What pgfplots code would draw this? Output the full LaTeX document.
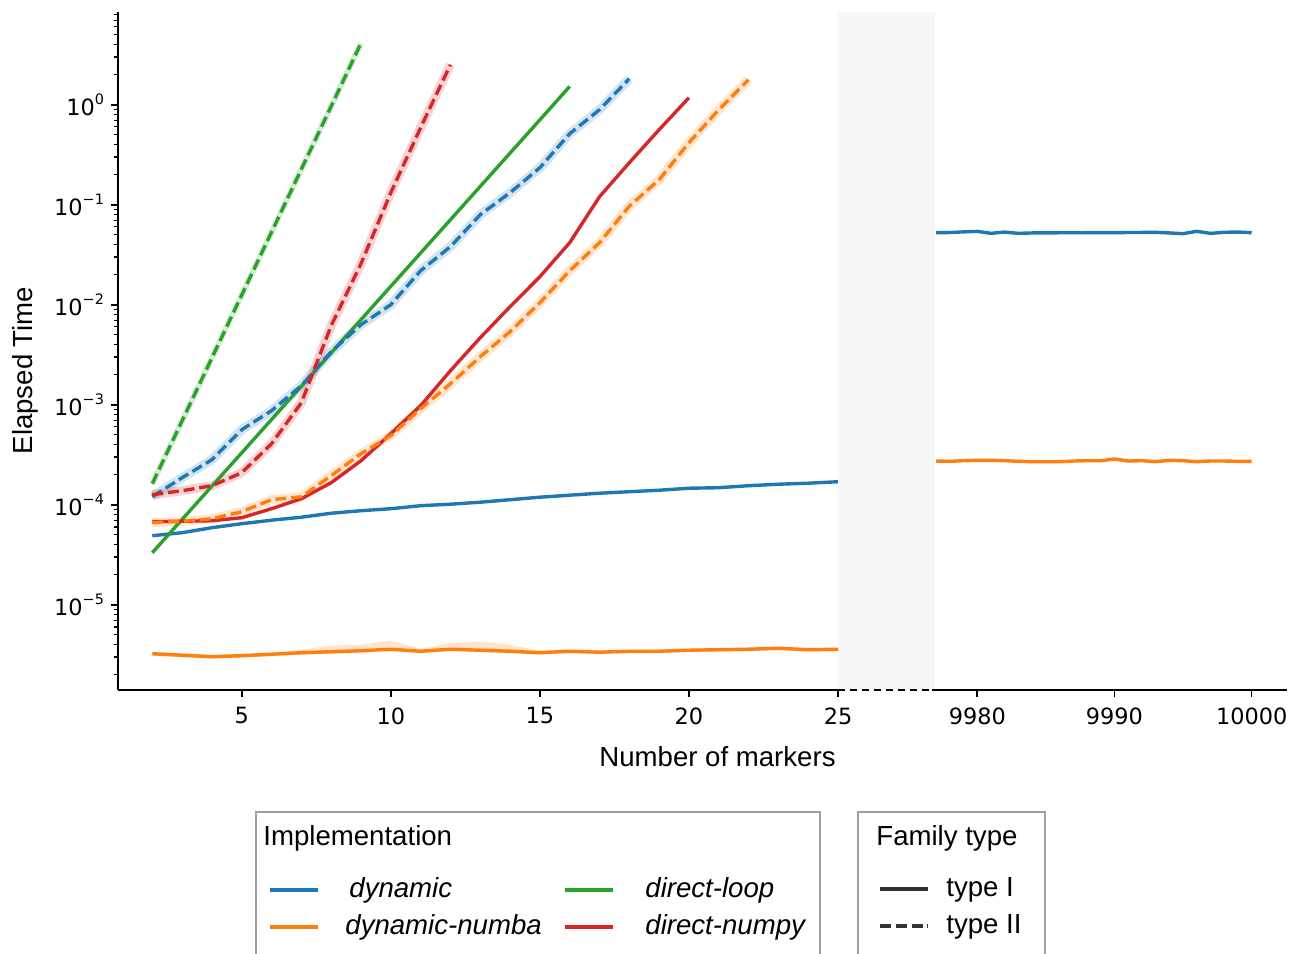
\documentclass[border=0pt]{standalone}
\usepackage{fontspec}
\setmainfont{Liberation Sans}
\newfontfamily\tickfont{DejaVu Sans}
\usepackage{pgfplots}
\pgfplotsset{compat=1.18}
\definecolor{tabblue}{HTML}{1F77B4}
\definecolor{taborange}{HTML}{FF7F0E}
\definecolor{tabgreen}{HTML}{2CA02C}
\definecolor{tabred}{HTML}{D62728}
\definecolor{bandgrey}{HTML}{F7F7F7}
\definecolor{legedge}{HTML}{A0A0A0}
\newcommand\pw[1]{10\raisebox{0.5em}{\fontsize{7.2pt}{8pt}\selectfont #1}}
\tikzset{dsh/.style={dash pattern=on 5.5pt off 2.4pt}}
\begin{document}
\begin{tikzpicture}
\useasboundingbox (0,0) rectangle (652pt,-476.5pt);
\fill[bandgrey] (419pt,-5.85pt) rectangle (467.5pt,-344.75pt);
\draw[line width=1pt, dash pattern=on 3.5pt off 2.5pt] (419pt,-344.75pt) -- (466pt,-344.75pt);

\begin{axis}[at={(59pt,-344.75pt)}, anchor=south west, scale only axis,
  width=360pt, height=338.9pt,
  ymode=log, ymin=1.419e-6, ymax=8.511,
  xmin=0.85, xmax=25,
  axis x line*=bottom, axis y line*=left,
  axis line style={line width=1pt, -},
  tick align=outside,
  major tick length=3.5pt, minor tick length=2pt,
  major tick style={line width=0.8pt, black},
  minor tick style={line width=0.6pt, black},
  tick label style={font=\tickfont\fontsize{11.2pt}{13pt}\selectfont},
  xticklabel style={yshift=-2pt},
  scaled x ticks=false,
  every axis plot/.append style={line width=1.7pt, line join=round},
  xtick={5,10,15,20,25}, xticklabels={5,10,15,20,25},
  ytick={1e-5,1e-4,1e-3,1e-2,1e-1,1},
  yticklabels={\pw{−5},\pw{−4},\pw{−3},\pw{−2},\pw{−1},\pw{0}},
  minor ytick={2e-6,3e-6,4e-6,5e-6,6e-6,7e-6,8e-6,9e-6,2e-5,3e-5,4e-5,5e-5,6e-5,7e-5,8e-5,9e-5,2e-4,3e-4,4e-4,5e-4,6e-4,7e-4,8e-4,9e-4,2e-3,3e-3,4e-3,5e-3,6e-3,7e-3,8e-3,9e-3,0.02,0.03,0.04,0.05,0.06,0.07,0.08,0.09,0.2,0.3,0.4,0.5,0.6,0.7,0.8,0.9,2,3,4,5,6,7,8},
]
% bands
\addplot[draw=none, fill=taborange, fill opacity=0.22] coordinates {
(2,3.388e-6)(3,3.273e-6)(4,3.162e-6)(5,3.236e-6)(6,3.350e-6)(7,3.548e-6)(8,3.890e-6)(9,3.981e-6)(10,4.365e-6)(11,3.631e-6)(12,4.121e-6)(13,4.266e-6)(14,3.981e-6)(15,3.467e-6)(16,3.548e-6)(17,3.467e-6)(18,3.548e-6)(19,3.548e-6)(20,3.631e-6)(21,3.673e-6)(22,3.715e-6)(23,3.802e-6)(24,3.673e-6)(25,3.715e-6)
(25,3.428e-6)(24,3.388e-6)(23,3.508e-6)(22,3.428e-6)(21,3.388e-6)(20,3.350e-6)(19,3.274e-6)(18,3.274e-6)(17,3.199e-6)(16,3.274e-6)(15,3.162e-6)(14,3.274e-6)(13,3.350e-6)(12,3.428e-6)(11,3.274e-6)(10,3.428e-6)(9,3.311e-6)(8,3.236e-6)(7,3.162e-6)(6,3.055e-6)(5,2.951e-6)(4,2.884e-6)(3,2.985e-6)(2,3.090e-6)};
\addplot[tabblue, opacity=0.2, line width=4.6pt] coordinates {
(2,1.202e-4)(3,1.862e-4)(4,2.818e-4)(5,5.623e-4)(6,8.710e-4)(7,1.549e-3)(8,3.388e-3)(9,6.310e-3)(10,1.0e-2)(11,2.188e-2)(12,3.802e-2)(13,7.943e-2)(14,0.1318)(15,0.2344)(16,0.5129)(17,0.8913)(18,1.820)};
\addplot[taborange, opacity=0.2, line width=4.6pt] coordinates {
(2,6.607e-5)(3,6.839e-5)(4,7.244e-5)(5,8.511e-5)(6,1.122e-4)(7,1.202e-4)(8,1.950e-4)(9,3.236e-4)(10,4.898e-4)(11,9.120e-4)(12,1.622e-3)(13,3.020e-3)(14,5.370e-3)(15,1.047e-2)(16,2.188e-2)(17,4.169e-2)(18,9.661e-2)(19,0.1778)(20,0.4169)(21,0.8913)(22,1.778)};
\addplot[tabred, opacity=0.2, line width=4.6pt] coordinates {
(2,1.259e-4)(3,1.380e-4)(4,1.549e-4)(5,2.089e-4)(6,4.074e-4)(7,1.047e-3)(8,6.166e-3)(9,2.570e-2)(10,0.1318)(11,0.5888)(12,2.512)};
\addplot[tabgreen, opacity=0.2, line width=3pt] coordinates {
(2,1.622e-4)(3,6.902e-4)(4,2.938e-3)(5,1.250e-2)(6,5.321e-2)(7,0.2265)(8,0.9638)(9,4.121)};
% type I (solid)
\addplot[tabblue] coordinates {
(2,4.90e-5)(3,5.25e-5)(4,5.89e-5)(5,6.46e-5)(6,7.00e-5)(7,7.50e-5)(8,8.22e-5)(9,8.71e-5)(10,9.12e-5)(11,9.772e-5)(12,1.012e-4)(13,1.059e-4)(14,1.122e-4)(15,1.189e-4)(16,1.245e-4)(17,1.303e-4)(18,1.349e-4)(19,1.396e-4)(20,1.462e-4)(21,1.479e-4)(22,1.549e-4)(23,1.603e-4)(24,1.641e-4)(25,1.698e-4)};
\addplot[taborange] coordinates {
(2,3.236e-6)(3,3.126e-6)(4,3.020e-6)(5,3.090e-6)(6,3.199e-6)(7,3.311e-6)(8,3.388e-6)(9,3.467e-6)(10,3.589e-6)(11,3.428e-6)(12,3.589e-6)(13,3.508e-6)(14,3.428e-6)(15,3.311e-6)(16,3.428e-6)(17,3.350e-6)(18,3.428e-6)(19,3.428e-6)(20,3.508e-6)(21,3.548e-6)(22,3.589e-6)(23,3.673e-6)(24,3.548e-6)(25,3.589e-6)};
\addplot[tabgreen] coordinates {
(2,3.311e-5)(3,7.129e-5)(4,1.535e-4)(5,3.304e-4)(6,7.112e-4)(7,1.531e-3)(8,3.296e-3)(9,7.096e-3)(10,1.528e-2)(11,3.289e-2)(12,7.079e-2)(13,0.1524)(14,0.3281)(15,0.7063)(16,1.521)};
\addplot[tabred] coordinates {
(2,6.761e-5)(3,6.839e-5)(4,6.918e-5)(5,7.413e-5)(6,9.120e-5)(7,1.148e-4)(8,1.660e-4)(9,2.754e-4)(10,5.129e-4)(11,9.772e-4)(12,2.188e-3)(13,4.677e-3)(14,9.550e-3)(15,1.905e-2)(16,4.169e-2)(17,0.1202)(18,0.2630)(19,0.5623)(20,1.175)};
% type II (dashed)
\addplot[tabblue, dsh] coordinates {
(2,1.202e-4)(3,1.862e-4)(4,2.818e-4)(5,5.623e-4)(6,8.710e-4)(7,1.549e-3)(8,3.388e-3)(9,6.310e-3)(10,1.0e-2)(11,2.188e-2)(12,3.802e-2)(13,7.943e-2)(14,0.1318)(15,0.2344)(16,0.5129)(17,0.8913)(18,1.820)};
\addplot[taborange, dsh] coordinates {
(2,6.607e-5)(3,6.839e-5)(4,7.244e-5)(5,8.511e-5)(6,1.122e-4)(7,1.202e-4)(8,1.950e-4)(9,3.236e-4)(10,4.898e-4)(11,9.120e-4)(12,1.622e-3)(13,3.020e-3)(14,5.370e-3)(15,1.047e-2)(16,2.188e-2)(17,4.169e-2)(18,9.661e-2)(19,0.1778)(20,0.4169)(21,0.8913)(22,1.778)};
\addplot[tabgreen, dsh] coordinates {
(2,1.622e-4)(3,6.902e-4)(4,2.938e-3)(5,1.250e-2)(6,5.321e-2)(7,0.2265)(8,0.9638)(9,4.121)};
\addplot[tabred, dsh] coordinates {
(2,1.259e-4)(3,1.380e-4)(4,1.549e-4)(5,2.089e-4)(6,4.074e-4)(7,1.047e-3)(8,6.166e-3)(9,2.570e-2)(10,0.1318)(11,0.5888)(12,2.512)};
\end{axis}

\begin{axis}[at={(466pt,-344.75pt)}, anchor=south west, scale only axis,
  width=177.5pt, height=338.9pt,
  ymode=log, ymin=1.419e-6, ymax=8.511,
  xmin=9976.7, xmax=10002.575,
  axis x line*=bottom, hide y axis,
  axis line style={line width=1pt, -},
  tick align=outside,
  major tick length=3.5pt,
  major tick style={line width=0.8pt, black},
  tick label style={font=\tickfont\fontsize{11.2pt}{13pt}\selectfont},
  xticklabel style={yshift=-2pt},
  scaled x ticks=false,
  every axis plot/.append style={line width=1.7pt, line join=round},
  xtick={9980,9990,10000}, xticklabels={9980,9990,10000},
]
\addplot[tabblue] coordinates {
(9977,0.05253)(9978,0.0527)(9979,0.0535)(9980,0.0541)(9981,0.0517)(9982,0.0533)(9983,0.0517)(9984,0.0522)(9985,0.0522)(9986,0.0524)(9987,0.0524)(9988,0.0525)(9989,0.0525)(9990,0.0526)(9991,0.0527)(9992,0.0528)(9993,0.0529)(9994,0.0522)(9995,0.0513)(9996,0.0542)(9997,0.0517)(9998,0.0530)(9999,0.0533)(10000,0.0525)};
\addplot[taborange] coordinates {
(9977,2.735e-4)(9978,2.716e-4)(9979,2.754e-4)(9980,2.780e-4)(9981,2.780e-4)(9982,2.754e-4)(9983,2.716e-4)(9984,2.692e-4)(9985,2.692e-4)(9986,2.692e-4)(9987,2.735e-4)(9988,2.754e-4)(9989,2.754e-4)(9990,2.864e-4)(9991,2.735e-4)(9992,2.754e-4)(9993,2.692e-4)(9994,2.780e-4)(9995,2.754e-4)(9996,2.692e-4)(9997,2.735e-4)(9998,2.735e-4)(9999,2.716e-4)(10000,2.716e-4)};
\end{axis}

\begin{scope}[x=0.5pt, y=-0.5pt, font=\fontsize{13.8pt}{16pt}\selectfont]
\node[anchor=base, inner sep=0] at (717.5,766) {Number of markers};
\node[anchor=base, rotate=90, inner sep=0] at (32.5,370.5) {Elapsed Time};
% legend 1
\draw[legedge, line width=0.7pt] (256,954) -- (256,812) -- (820,812) -- (820,954);
\node[anchor=base west, inner sep=0] at (263,845) {Implementation};
\draw[tabblue, line width=1.7pt] (270,890) -- (318,890);
\node[anchor=base west, inner sep=0] at (349,897) {\itshape dynamic};
\draw[taborange, line width=1.7pt] (270,927) -- (318,927);
\node[anchor=base west, inner sep=0] at (345,934) {\itshape dynamic-numba};
\draw[tabgreen, line width=1.7pt] (565,890) -- (613,890);
\node[anchor=base west, inner sep=0] at (645,897) {\itshape direct-loop};
\draw[tabred, line width=1.7pt] (565,927) -- (613,927);
\node[anchor=base west, inner sep=0] at (645,934) {\itshape direct-numpy};
% legend 2
\draw[legedge, line width=0.7pt] (858,954) -- (858,812) -- (1045,812) -- (1045,954);
\node[anchor=base west, inner sep=0] at (876,845) {Family type};
\draw[black!80, line width=1.7pt] (880,889) -- (928,889);
\node[anchor=base west, inner sep=0] at (946,896) {type I};
\draw[black!80, line width=1.7pt, dsh] (880,926) -- (928,926);
\node[anchor=base west, inner sep=0] at (946,933) {type II};
\end{scope}
\end{tikzpicture}
\end{document}
